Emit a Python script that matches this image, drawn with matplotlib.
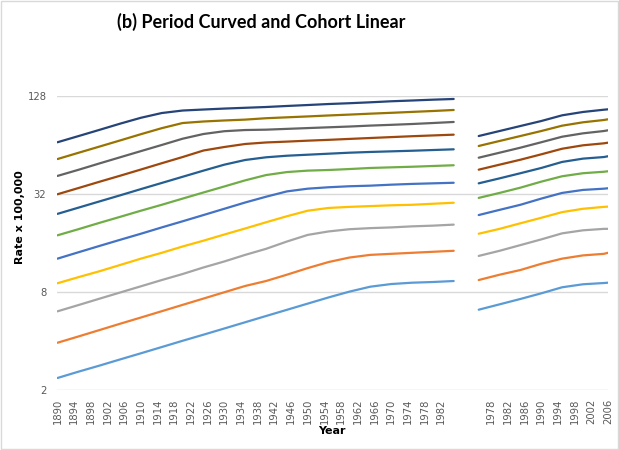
import matplotlib.pyplot as plt
from matplotlib.patches import Rectangle

# years (left block and right block of the category axis)
left_years = list(range(1890, 1986, 5))
right_years = [1975, 1980, 1985, 1990, 1995, 2000, 2005, 2006]

# tick labels shown under each block
left_tick_years = list(range(1890, 1983, 4))
right_tick_years = list(range(1978, 2007, 4))

# series, bottom to top (rate x 100,000)
s1_left = [2.37, 2.59, 2.82, 3.08, 3.36, 3.67, 4.01, 4.37, 4.77, 5.21,
           5.69, 6.21, 6.78, 7.40, 8.03, 8.61, 8.94, 9.11, 9.20, 9.33]
s2_left = [3.90, 4.26, 4.66, 5.10, 5.57, 6.09, 6.66, 7.28, 7.96, 8.70,
           9.33, 10.2, 11.2, 12.2, 13.0, 13.5, 13.7, 13.9, 14.1, 14.3]
s3_left = [6.08, 6.64, 7.26, 7.93, 8.66, 9.46, 10.3, 11.3, 12.3, 13.5,
           14.7, 16.3, 17.9, 18.8, 19.4, 19.7, 19.9, 20.2, 20.4, 20.7]
s4_left = [9.04, 9.85, 10.7, 11.7, 12.8, 13.9, 15.2, 16.5, 18.0, 19.6,
           21.4, 23.3, 25.2, 26.2, 26.6, 26.9, 27.2, 27.4, 27.8, 28.2]
s5_left = [12.8, 14.0, 15.3, 16.7, 18.2, 19.9, 21.7, 23.7, 25.9, 28.3,
           30.7, 33.1, 34.4, 35.1, 35.6, 35.9, 36.4, 36.8, 37.1, 37.4]
s6_left = [17.8, 19.4, 21.2, 23.1, 25.2, 27.4, 29.9, 32.6, 35.5, 38.7,
           41.7, 43.5, 44.4, 44.8, 45.4, 46.1, 46.5, 46.9, 47.4, 47.9]
s7_left = [24.1, 26.3, 28.7, 31.3, 34.2, 37.3, 40.7, 44.4, 48.3, 51.6,
           53.6, 54.8, 55.6, 56.4, 57.2, 57.8, 58.3, 58.8, 59.4, 60.0]
s8_left = [31.8, 34.7, 37.9, 41.3, 45.1, 49.3, 53.8, 59.0, 62.0, 64.7,
           66.1, 66.9, 67.8, 68.6, 69.5, 70.4, 71.3, 72.2, 73.0, 73.8]
s9_left = [41.2, 44.9, 49.1, 53.6, 58.5, 63.8, 69.7, 74.5, 77.5, 78.8,
           79.2, 80.1, 81.0, 81.9, 82.8, 83.9, 84.8, 85.8, 87.0, 88.3]
s10_left = [52.3, 57.1, 62.3, 68.0, 74.3, 80.9, 87.0, 88.9, 90.2, 91.3,
            93.1, 94.3, 95.5, 96.8, 98.0, 99.3, 100.5, 101.8, 103.1, 104.6]
s11_left = [66.3, 72.3, 78.9, 86.2, 93.7, 100.2, 103.8, 105.3, 106.7, 107.9,
            109.1, 110.7, 112.2, 113.8, 115.1, 116.6, 118.3, 119.6, 121.0, 122.2]

s1_right = [6.22, 6.71, 7.24, 7.84, 8.54, 8.91, 9.07, 9.11]
s2_right = [9.46, 10.2, 10.9, 11.9, 12.8, 13.4, 13.7, 13.9]
s3_right = [13.3, 14.3, 15.5, 16.8, 18.3, 19.1, 19.5, 19.5]
s4_right = [18.2, 19.5, 21.1, 22.8, 24.7, 25.9, 26.6, 26.7]
s5_right = [23.7, 25.5, 27.4, 29.9, 32.4, 33.8, 34.4, 34.6]
s6_right = [30.2, 32.4, 34.9, 38.0, 41.0, 42.8, 43.7, 44.0]
s7_right = [37.1, 39.8, 42.8, 46.1, 50.2, 52.6, 53.8, 54.4]
s8_right = [45.0, 48.3, 51.8, 55.9, 60.5, 63.5, 65.3, 65.9]
s9_right = [53.3, 57.2, 61.4, 66.3, 71.7, 75.2, 77.7, 78.5]
s10_right = [62.9, 67.5, 72.4, 77.7, 83.8, 87.9, 90.8, 91.7]
s11_right = [72.4, 77.7, 83.4, 89.5, 97.0, 101.7, 105.0, 105.6]

colors = ['#5B9BD5', '#ED7D31', '#A5A5A5', '#FFC000', '#4472C4', '#70AD47',
          '#255E91', '#9E480E', '#636363', '#997300', '#264478']

lefts = [s1_left, s2_left, s3_left, s4_left, s5_left, s6_left,
         s7_left, s8_left, s9_left, s10_left, s11_left]
rights = [s1_right, s2_right, s3_right, s4_right, s5_right, s6_right,
          s7_right, s8_right, s9_right, s10_right, s11_right]

# category positions: left block starts at 0, right block after a gap
def left_pos(y):
    return y - 1890

def right_pos(y):
    return y - 1874

fig = plt.figure(figsize=(6.19, 4.5), dpi=100)
ax = fig.add_axes([57.5 / 619, 1 - 390 / 450, (608 - 57.5) / 619, (390 - 95.7) / 450])

lx = [left_pos(y) for y in left_years]
rx = [right_pos(y) for y in right_years]
for vals_l, vals_r, c in zip(lefts, rights, colors):
    ax.plot(lx, vals_l, color=c, lw=1.6, solid_capstyle='round', solid_joinstyle='round')
    ax.plot(rx, vals_r, color=c, lw=1.6, solid_capstyle='round', solid_joinstyle='round')

ax.set_yscale('log', base=2)
ax.set_ylim(2, 128)
ax.set_yticks([2, 8, 32, 128])
ax.set_yticklabels(['2', '8', '32', '128'])
ax.minorticks_off()
ax.set_xlim(0, 132)

ticks = [left_pos(y) for y in left_tick_years] + [right_pos(y) for y in right_tick_years]
labels = [str(y) for y in left_tick_years + right_tick_years]
ax.set_xticks(ticks)
ax.set_xticklabels(labels, rotation=90)

ax.grid(axis='y', color='#D9D9D9', lw=1)
ax.set_axisbelow(True)
for s in ax.spines.values():
    s.set_visible(False)
ax.tick_params(axis='both', length=0, labelsize=7.2, labelcolor='#595959')
ax.tick_params(axis='y', pad=8)
ax.tick_params(axis='x', pad=6)

fig.text(261 / 619, 1 - 22 / 450, '(b) Period Curved and Cohort Linear',
         ha='center', va='center', fontsize=13, fontweight='bold',
         family=['Lato', 'DejaVu Sans'])
fig.text(332 / 619, 1 - 431 / 450, 'Year', ha='center', va='center',
         fontsize=8, fontweight='bold')
fig.text(20 / 619, 1 - 217 / 450, 'Rate x 100,000', ha='center', va='center',
         rotation=90, fontsize=8, fontweight='bold')

fig.patches.append(Rectangle((0.002, 0.002), 0.996, 0.996, transform=fig.transFigure,
                             fill=False, edgecolor='#D9D9D9', lw=1))

fig.savefig('out.png', dpi=100)
